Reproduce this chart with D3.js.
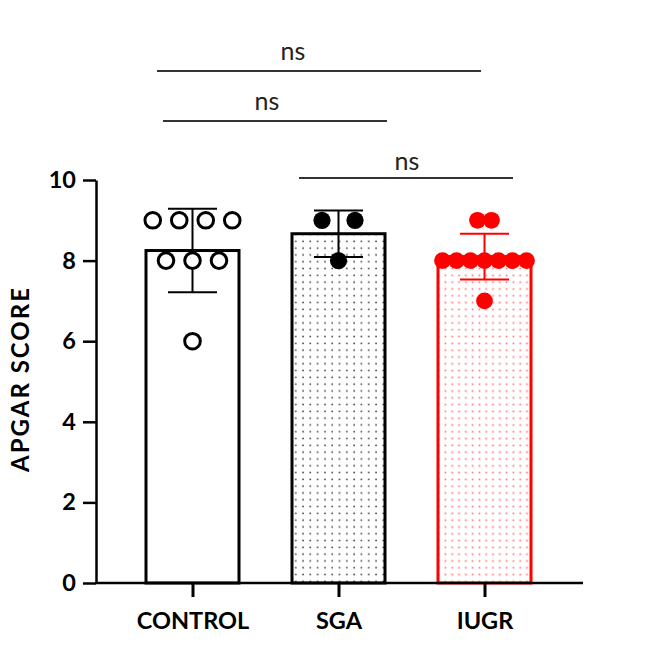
<!DOCTYPE html>
<html>
<head>
<meta charset="utf-8">
<script src="https://cdn.jsdelivr.net/npm/d3@7"></script>
<style>
  html, body { margin: 0; padding: 0; background: #fff; }
  svg { display: block; }
</style>
</head>
<body>
<svg id="chart" width="647" height="651"></svg>
<script>
// ---- data ----
const categories = ["CONTROL", "SGA", "IUGR"];
const controlValues = [9, 9, 9, 9, 8, 8, 8, 6];
const sgaValues = [9, 9, 8];
const iugrValues = [9, 9, 8, 8, 8, 8, 8, 8, 8, 7];
const yTicks = [0, 2, 4, 6, 8, 10];
const yLabel = "APGAR SCORE";
const comparisons = [
  { a: "CONTROL", b: "IUGR", label: "ns" },
  { a: "CONTROL", b: "SGA", label: "ns" },
  { a: "SGA", b: "IUGR", label: "ns" }
];

// ---- layout ----
const svg = d3.select("#chart");
const font = "Lato, 'Open Sans', sans-serif";
const x = d3.scalePoint().domain(categories).range([192.5, 484.5]);
const y = d3.scaleLinear().domain([0, 10]).range([583, 180]);
const barW = 93;

const groups = [
  { cat: "CONTROL", values: controlValues, color: "#000", fill: "#fff", spacing: 26.5, open: true, r: 7.8 },
  { cat: "SGA", values: sgaValues, color: "#000", fill: "url(#dotsBlack)", spacing: 33, open: false, r: 8.6 },
  { cat: "IUGR", values: iugrValues, color: "#ff0000", fill: "url(#dotsRed)", spacing: 14, open: false, r: 8.4 }
];

// patterns
const defs = svg.append("defs");
const p1 = defs.append("pattern").attr("id", "dotsBlack").attr("patternUnits", "userSpaceOnUse")
  .attr("width", 7.3).attr("height", 6.8);
p1.append("rect").attr("width", 7.3).attr("height", 6.8).attr("fill", "#fff");
p1.append("rect").attr("x", 3).attr("y", 2.6).attr("width", 1.5).attr("height", 1.5).attr("fill", "#333");
const p2 = defs.append("pattern").attr("id", "dotsRed").attr("patternUnits", "userSpaceOnUse")
  .attr("width", 6.8).attr("height", 6.8);
p2.append("rect").attr("width", 6.8).attr("height", 6.8).attr("fill", "#fff");
p2.append("rect").attr("x", 2.6).attr("y", 2.6).attr("width", 1.6).attr("height", 1.6).attr("fill", "#ff6a6a");

// bars
groups.forEach(g => {
  const m = d3.mean(g.values);
  svg.append("rect")
    .attr("x", x(g.cat) - barW / 2)
    .attr("y", y(m))
    .attr("width", barW)
    .attr("height", y(0) - y(m))
    .attr("fill", g.fill)
    .attr("stroke", g.color)
    .attr("stroke-width", 3);
});

// error bars (mean ± SD)
groups.forEach(g => {
  const m = d3.mean(g.values), sd = d3.deviation(g.values);
  const cx = x(g.cat);
  const eg = svg.append("g").attr("stroke", g.color).attr("stroke-width", 2).attr("fill", "none");
  eg.append("line").attr("x1", cx).attr("x2", cx).attr("y1", y(m + sd)).attr("y2", y(m - sd));
  [m + sd, m - sd].forEach(v => {
    eg.append("line").attr("x1", cx - 24.5).attr("x2", cx + 24.5).attr("y1", y(v)).attr("y2", y(v));
  });
});

// points
groups.forEach(g => {
  const byVal = d3.group(g.values, v => v);
  const pts = [];
  byVal.forEach((arr, v) => {
    arr.forEach((_, i) => pts.push({ v, off: (i - (arr.length - 1) / 2) * g.spacing }));
  });
  svg.append("g").selectAll("circle").data(pts).join("circle")
    .attr("cx", d => x(g.cat) + d.off)
    .attr("cy", d => y(d.v))
    .attr("r", g.r)
    .attr("fill", g.open ? "#fff" : g.color)
    .attr("stroke", g.color)
    .attr("stroke-width", g.open ? 3 : 0);
});

// y axis
const yAxis = svg.append("g").attr("transform", "translate(96,0)")
  .call(d3.axisLeft(y).tickValues(yTicks).tickSize(13).tickPadding(7).tickSizeOuter(0));
yAxis.select(".domain").attr("stroke", "#000").attr("stroke-width", 2.5);
yAxis.selectAll(".tick line").attr("stroke", "#000").attr("stroke-width", 2.5);
yAxis.selectAll(".tick text").attr("font-family", font).attr("font-weight", "bold")
  .attr("font-size", 23.5).attr("fill", "#000");

// x axis
svg.append("line").attr("x1", 95).attr("x2", 583).attr("y1", y(0)).attr("y2", y(0))
  .attr("stroke", "#000").attr("stroke-width", 2.5);
const xAxis = svg.append("g").attr("transform", `translate(0,${y(0)})`)
  .call(d3.axisBottom(x).tickSize(14).tickPadding(15).tickSizeOuter(0));
xAxis.select(".domain").remove();
xAxis.selectAll(".tick line").attr("stroke", "#000").attr("stroke-width", 3);
xAxis.selectAll(".tick text").attr("font-family", font).attr("font-weight", "bold")
  .attr("font-size", 23.5).attr("fill", "#000").attr("dy", "0.71em");

// y label
svg.append("text")
  .attr("transform", "translate(29,380) rotate(-90)")
  .attr("text-anchor", "middle")
  .attr("font-family", font).attr("font-weight", "bold").attr("font-size", 24)
  .attr("textLength", 184).attr("lengthAdjust", "spacing")
  .attr("fill", "#000")
  .text(yLabel);

// significance brackets
const bracketLayout = [
  { y: 71, x1off: -35.5, x2off: -3.5, tx: 293, ty: 60 },
  { y: 121, x1off: -29.5, x2off: 48.5, tx: 267, ty: 110 },
  { y: 178, x1off: -39.5, x2off: 28.5, tx: 407, ty: 170 }
];
comparisons.forEach((c, i) => {
  const L = bracketLayout[i];
  svg.append("line")
    .attr("x1", x(c.a) + L.x1off).attr("x2", x(c.b) + L.x2off)
    .attr("y1", L.y).attr("y2", L.y)
    .attr("stroke", "#333").attr("stroke-width", 1.8);
  svg.append("text")
    .attr("x", L.tx).attr("y", L.ty)
    .attr("text-anchor", "middle")
    .attr("font-family", font).attr("font-size", 25).attr("fill", "#222")
    .text(c.label);
});
</script>
</body>
</html>
